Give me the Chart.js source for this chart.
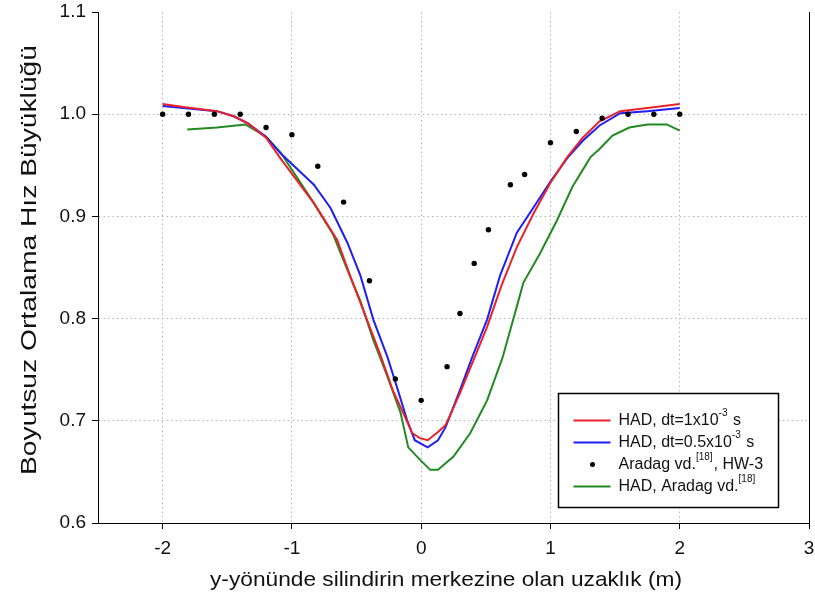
<!DOCTYPE html>
<html>
<head>
<meta charset="utf-8">
<script src="https://cdn.jsdelivr.net/npm/chart.js@4.4.1/dist/chart.umd.min.js"></script>
<style>
    html, body { margin: 0; padding: 0; background: #fff; }
    #wrap { width: 815px; height: 612px; }
</style>
</head>
<body>
<div id="wrap"><canvas id="chart" width="815" height="612"></canvas></div>
<script>
// tick values
const xTicks = [-2, -1, 0, 1, 2, 3];
const yTicks = [0.6, 0.7, 0.8, 0.9, 1.0, 1.1];

const xTitle = "y-yönünde silindirin merkezine olan uzaklık (m)";
const yTitle = "Boyutsuz Ortalama Hız Büyüklüğü";

// HAD, dt=1x10^-3 s (red)
const redX = [-2.0, -1.84, -1.58, -1.45, -1.34, -1.2, -1.09, -0.83, -0.65, -0.55, -0.42, -0.32, -0.22, -0.14, -0.07, -0.01, 0.05, 0.13, 0.19, 0.30, 0.40, 0.51, 0.62, 0.74, 0.87, 1.0, 1.13, 1.25, 1.38, 1.54, 1.75, 2.0];
const redY = [1.010, 1.007, 1.003, 0.998, 0.991, 0.977, 0.957, 0.913, 0.877, 0.842, 0.799, 0.766, 0.730, 0.708, 0.688, 0.683, 0.681, 0.689, 0.696, 0.727, 0.758, 0.792, 0.832, 0.870, 0.903, 0.933, 0.958, 0.977, 0.993, 1.003, 1.006, 1.010];

// HAD, dt=0.5x10^-3 s (blue)
const blueX = [-2.0, -1.84, -1.58, -1.45, -1.34, -1.2, -1.09, -0.83, -0.70, -0.57, -0.47, -0.37, -0.26, -0.18, -0.11, -0.05, 0.05, 0.13, 0.19, 0.30, 0.40, 0.51, 0.61, 0.74, 0.87, 1.0, 1.13, 1.25, 1.38, 1.54, 1.75, 2.0];
const blueY = [1.008, 1.006, 1.003, 0.998, 0.991, 0.978, 0.962, 0.931, 0.908, 0.874, 0.842, 0.799, 0.762, 0.730, 0.701, 0.681, 0.674, 0.681, 0.694, 0.730, 0.764, 0.799, 0.842, 0.884, 0.909, 0.934, 0.957, 0.974, 0.989, 1.001, 1.003, 1.006];

// Aradag vd. [18], HW-3 (black dots)
const dotX = [-2.0, -1.8, -1.6, -1.4, -1.2, -1.0, -0.8, -0.6, -0.4, -0.2, 0.0, 0.2, 0.3, 0.41, 0.52, 0.69, 0.8, 1.0, 1.2, 1.4, 1.6, 1.8, 2.0];
const dotY = [1.0, 1.0, 1.0, 1.0, 0.987, 0.98, 0.949, 0.914, 0.837, 0.741, 0.72, 0.753, 0.805, 0.854, 0.887, 0.931, 0.941, 0.972, 0.983, 0.996, 1.0, 1.0, 1.0];

// HAD, Aradag vd. [18] (green)
const greenX = [-1.81, -1.58, -1.36, -1.2, -1.09, -0.83, -0.68, -0.61, -0.53, -0.47, -0.37, -0.26, -0.16, -0.10, -0.01, 0.07, 0.13, 0.25, 0.38, 0.51, 0.63, 0.76, 0.79, 0.92, 1.05, 1.17, 1.31, 1.38, 1.48, 1.61, 1.75, 1.90, 2.0];
const greenY = [0.985, 0.987, 0.990, 0.978, 0.963, 0.913, 0.882, 0.860, 0.835, 0.817, 0.779, 0.743, 0.708, 0.674, 0.662, 0.652, 0.652, 0.665, 0.688, 0.720, 0.762, 0.821, 0.835, 0.864, 0.896, 0.929, 0.958, 0.966, 0.979, 0.987, 0.990, 0.990, 0.984];

// legend text pieces: [text, superscript?]
const legendLabels = [
    [["HAD, dt=1x10", false], ["-3", true], [" s", false]],
    [["HAD, dt=0.5x10", false], ["-3", true], [" s", false]],
    [["Aradag vd.", false], ["[18]", true], [", HW-3", false]],
    [["HAD, Aradag vd.", false], ["[18]", true]],
];

const FONT = "'Liberation Sans', Arial, sans-serif";
const pairs = (xs, ys) => xs.map((x, i) => ({ x, y: ys[i] }));

const sets = [
    { data: pairs(redX, redY), borderColor: "#e8222a", showLine: true, pointRadius: 0, borderWidth: 2, order: 2 },
    { data: pairs(blueX, blueY), borderColor: "#1f1ff2", showLine: true, pointRadius: 0, borderWidth: 2, order: 3 },
    { data: pairs(dotX, dotY), backgroundColor: "#000", borderColor: "#000", showLine: false, pointRadius: 2.7, borderWidth: 0, order: 0 },
    { data: pairs(greenX, greenY), borderColor: "#228a22", showLine: true, pointRadius: 0, borderWidth: 2, order: 4 },
];

// the original titles are drawn wide, so stretch them along the text
function stretchedText(ctx, text, cx, cy, size, length, angle) {
    ctx.save();
    ctx.font = size + "px " + FONT;
    const w = ctx.measureText(text).width;
    ctx.translate(cx, cy);
    ctx.rotate(angle);
    ctx.scale(length / w, 1);
    ctx.textAlign = "center";
    ctx.textBaseline = "middle";
    ctx.fillStyle = "#111";
    ctx.fillText(text, 0, 0);
    ctx.restore();
}

const frame = {
    id: "frame",
    afterDraw(chart) {
        const { ctx, chartArea: a } = chart;
        ctx.save();
        ctx.strokeStyle = "#000";
        ctx.lineWidth = 1;
        ctx.beginPath();
        ctx.moveTo(Math.round(a.right) + 0.5, a.top);
        ctx.lineTo(Math.round(a.right) + 0.5, a.bottom);
        ctx.stroke();

        stretchedText(ctx, xTitle, 446, 580, 21, 472, 0);
        stretchedText(ctx, yTitle, 30, 260, 22, 430, -Math.PI / 2);

        // legend
        const bx = 558.5, by = 393.5, bw = 220, bh = 114;
        ctx.fillStyle = "#fff";
        ctx.fillRect(bx, by, bw, bh);
        ctx.lineWidth = 1.5;
        ctx.strokeRect(bx, by, bw, bh);
        legendLabels.forEach((parts, i) => {
            const ds = sets[i];
            const cy = by + 27 + i * 22;
            if (ds.showLine) {
                ctx.strokeStyle = ds.borderColor;
                ctx.lineWidth = 2;
                ctx.beginPath();
                ctx.moveTo(bx + 15, cy);
                ctx.lineTo(bx + 52, cy);
                ctx.stroke();
            } else {
                ctx.fillStyle = "#000";
                ctx.beginPath();
                ctx.arc(bx + 34, cy, 2.5, 0, Math.PI * 2);
                ctx.fill();
            }
            let tx = bx + 60;
            ctx.fillStyle = "#111";
            ctx.textBaseline = "middle";
            parts.forEach(([t, sup]) => {
                ctx.font = (sup ? "10px " : "16px ") + FONT;
                ctx.fillText(t, tx, sup ? cy - 7 : cy);
                tx += ctx.measureText(t).width + (sup ? 1 : 0);
            });
        });
        ctx.restore();
    },
};

const ctx1 = document.getElementById("chart");
new Chart(ctx1, {
    type: "scatter",
    data: { datasets: sets },
    options: {
        responsive: false,
        animation: false,
        layout: { padding: { top: 12, right: 0, left: 0, bottom: 0 } },
        plugins: {
            legend: { display: false },
            tooltip: { enabled: false },
        },
        scales: {
            x: {
                type: "linear",
                min: -2.5,
                max: 3,
                afterBuildTicks: (s) => { s.ticks = xTicks.map((v) => ({ value: v })); },
                afterFit: (s) => {
                    s.height = 89;
                    s.paddingLeft = 0;
                    s.paddingRight = 6;
                },
                grid: {
                    color: (c) => (c.tick && c.tick.value === 3 ? "rgba(0,0,0,0)" : "#b4b4b4"),
                    tickColor: "#000",
                    tickLength: 6,
                    tickBorderDash: [],
                },
                border: { color: "#000", width: 1, dash: [1.5, 3] },
                ticks: {
                    color: "#111",
                    padding: 8,
                    font: { size: 19, family: FONT },
                    callback: (v) => String(v),
                },
            },
            y: {
                type: "linear",
                min: 0.6,
                max: 1.1,
                afterBuildTicks: (s) => { s.ticks = yTicks.map((v) => ({ value: v })); },
                afterFit: (s) => {
                    s.width = 98;
                    s.paddingTop = 0;
                    s.paddingBottom = 0;
                },
                grid: {
                    color: (c) => (c.tick && (c.tick.value === 1.1 || c.tick.value === 0.6) ? "rgba(0,0,0,0)" : "#b4b4b4"),
                    tickColor: "#000",
                    tickLength: 6,
                    tickBorderDash: [],
                },
                border: { color: "#000", width: 1, dash: [1.5, 3] },
                ticks: {
                    color: "#111",
                    padding: 6,
                    font: { size: 19, family: FONT },
                    callback: (v) => Number(v).toFixed(1),
                },
            },
        },
    },
    plugins: [frame],
});
</script>
</body>
</html>
